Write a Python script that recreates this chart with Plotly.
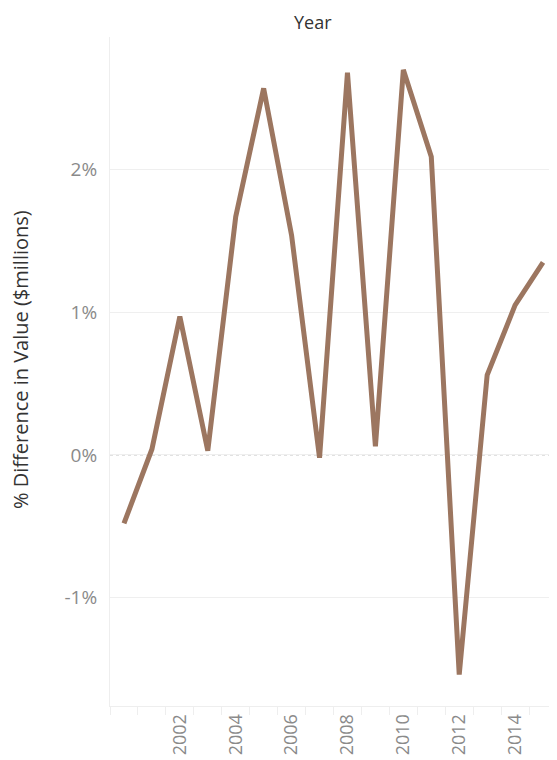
import plotly.graph_objects as go

years = list(range(2000, 2016))
pct_diff = [-0.48, 0.04, 0.97, 0.03, 1.67, 2.57, 1.54, -0.02, 2.68, 0.06, 2.70, 2.09, -1.54, 0.56, 1.05, 1.35]
tick_years = [2002, 2004, 2006, 2008, 2010, 2012, 2014]
y_ticks = [-1, 0, 1, 2]
y_tick_labels = ["-1%", "0%", "1%", "2%"]

fig = go.Figure()
fig.add_trace(go.Scatter(
    x=years, y=pct_diff, mode="lines",
    line=dict(color="#9c7660", width=5),
    hoverinfo="skip", showlegend=False,
))

fig.update_layout(
    width=557, height=760,
    margin=dict(l=102, r=8, t=29, b=62),
    plot_bgcolor="white", paper_bgcolor="white",
    font=dict(family="Open Sans", color="#888888"),
    xaxis=dict(
        range=[1999.5, 2015.5],
        tickmode="array", tickvals=tick_years, ticktext=[str(y) for y in tick_years],
        tickangle=-90, tickfont=dict(size=18, color="#8a8a8a"),
        ticks="", showgrid=False, zeroline=False,
        showline=True, linecolor="#eeeeee", linewidth=1,
        minor=dict(tickmode="linear", tick0=1999.5, dtick=1, ticks="outside",
                   ticklen=8, tickcolor="#eeeeee", tickwidth=1, showgrid=False),
        fixedrange=True,
    ),
    yaxis=dict(
        range=[-1.76, 2.93],
        tickmode="array", tickvals=y_ticks, ticktext=y_tick_labels,
        tickfont=dict(size=19, color="#8a8a8a"),
        ticks="", ticklabelstandoff=8,
        showgrid=True, gridcolor="#efefef", gridwidth=1,
        zeroline=False,
        showline=True, linecolor="#eeeeee", linewidth=1,
        fixedrange=True,
    ),
    shapes=[dict(type="line", xref="paper", x0=0, x1=1, yref="y", y0=0, y1=0,
                 line=dict(color="#bbbbbb", width=1, dash="dot"), layer="below")],
    annotations=[
        dict(text="Year", xref="paper", x=(305 - 102) / 447, xanchor="center",
             yref="paper", y=1, yshift=15, yanchor="middle", showarrow=False,
             font=dict(size=18, color="#333333")),
        dict(text="% Difference in Value ($millions)", textangle=-90,
             xref="paper", x=(12 - 102) / 447, xanchor="center",
             yref="paper", y=(698 - 352) / 669, yanchor="middle", showarrow=False,
             font=dict(size=20, color="#333333")),
    ],
)

fig.write_html("out.html")
